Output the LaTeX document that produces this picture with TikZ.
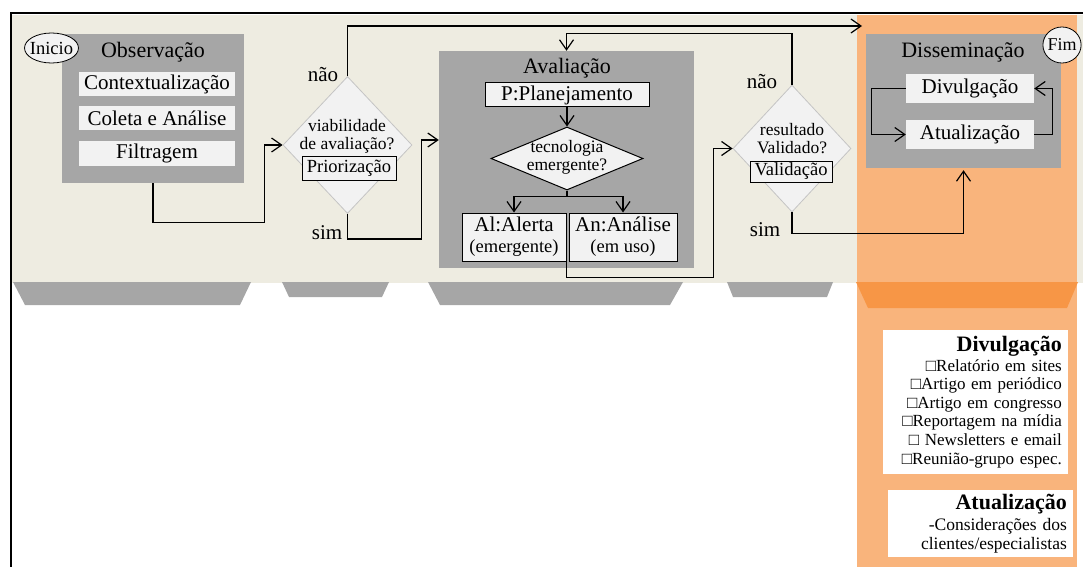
\documentclass[tikz,border=0pt]{standalone}
\usepackage{fontspec}
\setmainfont{Liberation Serif}
\usetikzlibrary{shapes.geometric,arrows.meta}

\definecolor{bege}{HTML}{EEECE1}
\definecolor{cinza}{HTML}{A6A6A6}
\definecolor{claro}{HTML}{F2F2F2}
\definecolor{laranja}{HTML}{F9B47C}
\definecolor{laranjaesc}{HTML}{F79646}
\definecolor{borda}{HTML}{C4C4C4}

\newcommand{\tam}[1]{\fontsize{#1}{#1}\selectfont}

\begin{document}
\begin{tikzpicture}[x=1pt,y=-1pt,
  fase/.style={fill=cinza,inner sep=0pt},
  item/.style={fill=claro,inner sep=0pt,font=\tam{21}},
  caixa/.style={draw,fill=claro,inner sep=0pt,line width=1pt},
  decisao/.style={diamond,draw=borda,fill=claro,inner sep=0pt,line width=0.8pt},
  titulo/.style={font=\tam{22}},
  texto/.style={font=\fontsize{17.5}{18}\selectfont,inner sep=0pt,align=center},
  rotulo/.style={font=\tam{21},inner sep=0pt},
  seta/.style={line width=1.2pt,-{Straight Barb[length=10pt,width=14pt]}},
  linha/.style={line width=1.2pt}]

\useasboundingbox (0,0) rectangle (1083,567);

% Fundo
\fill[bege] (12,15) rectangle (1083,283);
\fill[laranja] (857,15) rectangle (1077,567);
\draw[line width=2pt] (1083,13) -- (11,13) -- (11,567);

% Trapezios
\fill[cinza] (13,282) -- (251,282) -- (240,305) -- (25,305) -- cycle;
\fill[cinza] (282,282) -- (389,282) -- (382,297) -- (289,297) -- cycle;
\fill[cinza] (428,282) -- (683,282) -- (670,305) -- (440,305) -- cycle;
\fill[cinza] (727,282) -- (833,282) -- (827,297) -- (733,297) -- cycle;
\fill[laranjaesc] (856,282) -- (1078,282) -- (1067,308) -- (868,308) -- cycle;

% Observacao
\node[fase,minimum width=182pt,minimum height=149pt] (obs) at (153,108.5) {};
\node[titulo] (tobs) at (153,52) {Observação};
\node[item,minimum width=156pt,minimum height=24pt] (cont) at (157,84) {Contextualização};
\node[item,minimum width=156pt,minimum height=24pt] (col) at (157,118) {Coleta e Análise};
\node[item,minimum width=156pt,minimum height=25pt] (fil) at (157,153.5) {Filtragem};
\node[draw,ellipse,fill=claro,line width=0.8pt,minimum height=30pt,inner xsep=-2.5pt,inner ysep=0pt,font=\tam{18.5}] (ini) at (51.5,48) {Inicio};

% Viabilidade
\node[decisao,minimum width=129pt,minimum height=137pt] (d1) at (347.5,145) {};
\node[texto] (td1) at (347,136) {viabilidade\\de avaliação?};
\node[caixa,minimum width=94pt,minimum height=24pt,font=\tam{18.5}] (prio) at (349,168) {Priorização};
\node[rotulo] (nao1) at (323,75) {não};
\node[rotulo] (sim1) at (327,233) {sim};

% Avaliacao
\node[fase,minimum width=255pt,minimum height=217pt] (aval) at (566.5,159.5) {};
\node[titulo] (taval) at (567,68) {Avaliação};
\node[caixa,minimum width=164pt,minimum height=24pt,font=\tam{21}] (plan) at (567,95) {P:Planejamento};
\node[decisao,draw=black,line width=1pt,minimum width=152pt,minimum height=63pt] (d2) at (567,158.5) {};
\node[texto] (td2) at (567,157) {tecnologia\\emergente?};
\node[caixa,minimum width=104pt,minimum height=48pt,align=center,font=\tam{21}] (al) at (514,237) {Al:Alerta\\{\tam{18.5}(emergente)}};
\node[caixa,minimum width=108pt,minimum height=48pt,align=center,font=\tam{21}] (an) at (623,237) {An:Análise\\{\tam{18.5}(em uso)}};

% Validacao
\node[decisao,minimum width=118pt,minimum height=127pt] (d3) at (792,148.5) {};
\node[texto] (td3) at (792,139) {resultado\\Validado?};
\node[caixa,minimum width=82pt,minimum height=21pt,font=\tam{18.5}] (val) at (791,171.5) {Validação};
\node[rotulo] (nao2) at (762,82) {não};
\node[rotulo] (sim2) at (765,230) {sim};

% Disseminacao
\node[fase,minimum width=195pt,minimum height=134pt] (diss) at (963.5,101) {};
\node[titulo] (tdiss) at (963,52) {Disseminação};
\node[item,minimum width=128pt,minimum height=29pt] (div) at (970,88.5) {Divulgação};
\node[item,minimum width=128pt,minimum height=29pt] (atu) at (970,134.5) {Atualização};
\node[draw,ellipse,fill=claro,line width=0.8pt,minimum height=36pt,inner xsep=-1pt,inner ysep=0pt,font=\tam{18}] (fim) at (1062,45) {Fim};
\coordinate (entdiss) at (862,26);

% Ligacoes
\draw[seta] (obs.south) -- ++(0,39) -| ([xshift=-18pt]d1.west) -- (d1.west);
\draw[seta] (d1.north) |- (entdiss);
\draw[seta] (d1.south) -- ++(0,25) -| ([shift={(-17,-19.5)}]aval.west) -- ([yshift=19.5pt]aval.west);
\draw[seta] (plan.south) -- (d2.north);
\draw[seta] (d2.south) -- ++(0,6) -| (al.north);
\draw[seta] (d2.south) -- ++(0,6) -| (an.north);
\draw[seta] (al.south east) -- ++(0,16) -| ([xshift=-19pt]d3.west) -- (d3.west);
\draw[seta] (d3.north) |- ([yshift=17pt]aval.north) -- (aval.north);
\draw[seta] (d3.south) |- ([yshift=-65pt]diss.south) -- ([yshift=-2pt]diss.south);
\draw[seta] (div.west) -- ++(-34,0) |- (atu.west);
\draw[seta] (atu.east) -- ++(18,0) |- (div.east);

% Quadros de texto
\node[fill=white,anchor=north east,text width=173pt,align=right,inner xsep=6pt,inner ysep=6pt,font=\fontsize{17}{18.6}\selectfont] (infdiv) at (1068,330)
  {{\bfseries\tam{22}Divulgação}\\[1pt]□Relatório em sites\\□Artigo em periódico\\□Artigo em congresso\\□Reportagem na mídia\\□ Newsletters e email\\□Reunião-grupo espec.};
\node[fill=white,anchor=north east,text width=173pt,align=right,inner xsep=6pt,inner ysep=4pt,font=\fontsize{17.5}{19.5}\selectfont] (infatu) at (1073,490)
  {{\bfseries\tam{22}Atualização}\\[1pt]-Considerações dos\\clientes/especialistas};

\end{tikzpicture}
\end{document}
